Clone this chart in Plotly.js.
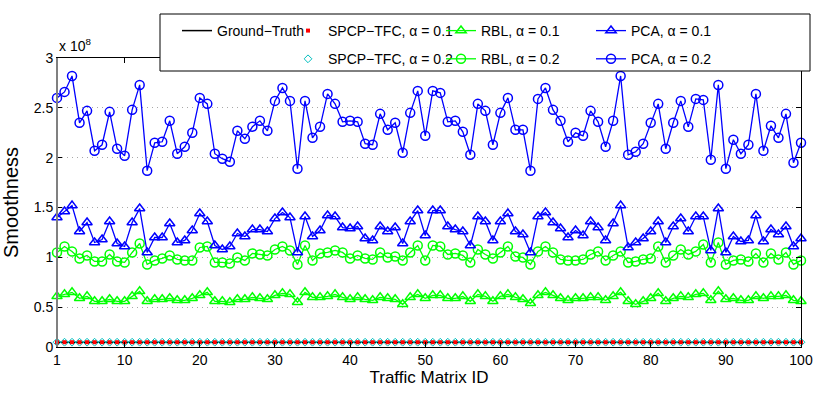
<!DOCTYPE html>
<html>
<head>
<meta charset="utf-8">
<script src="https://cdn.plot.ly/plotly-3.0.1.min.js"></script>
<style>
  html, body { margin: 0; padding: 0; background: #fff; }
  #chart { width: 821px; height: 393px; }
</style>
</head>
<body>
<div id="chart"></div>
<script>
// Traffic matrix ids (x axis)
const matrixId = [
    1, 2, 3, 4, 5, 6, 7, 8, 9, 10, 11, 12, 13, 14, 15, 16, 17, 18, 19, 20,
    21, 22, 23, 24, 25, 26, 27, 28, 29, 30, 31, 32, 33, 34, 35, 36, 37, 38, 39, 40,
    41, 42, 43, 44, 45, 46, 47, 48, 49, 50, 51, 52, 53, 54, 55, 56, 57, 58, 59, 60,
    61, 62, 63, 64, 65, 66, 67, 68, 69, 70, 71, 72, 73, 74, 75, 76, 77, 78, 79, 80,
    81, 82, 83, 84, 85, 86, 87, 88, 89, 90, 91, 92, 93, 94, 95, 96, 97, 98, 99, 100
];

// Smoothness values, in units of 10^8
const groundTruth = [
    0.15, 0.15, 0.15, 0.15, 0.15, 0.15, 0.15, 0.15, 0.15, 0.15, 0.15, 0.15, 0.15, 0.15, 0.15, 0.15, 0.15, 0.15, 0.15, 0.15,
    0.15, 0.15, 0.15, 0.15, 0.15, 0.15, 0.15, 0.15, 0.15, 0.15, 0.15, 0.15, 0.15, 0.15, 0.15, 0.15, 0.15, 0.15, 0.15, 0.15,
    0.15, 0.15, 0.15, 0.15, 0.15, 0.15, 0.15, 0.15, 0.15, 0.15, 0.15, 0.15, 0.15, 0.15, 0.15, 0.15, 0.15, 0.15, 0.15, 0.15,
    0.15, 0.15, 0.15, 0.15, 0.15, 0.15, 0.15, 0.15, 0.15, 0.15, 0.15, 0.15, 0.15, 0.15, 0.15, 0.15, 0.15, 0.15, 0.15, 0.15,
    0.15, 0.15, 0.15, 0.15, 0.15, 0.15, 0.15, 0.15, 0.15, 0.15, 0.15, 0.15, 0.15, 0.15, 0.15, 0.15, 0.15, 0.15, 0.15, 0.15
];
// SPCP-TFC sits right on the ground truth for both alphas
const spcpA1 = groundTruth;
const spcpA2 = groundTruth;

const rblA1 = [
    0.61, 0.63, 0.65, 0.59, 0.61, 0.56, 0.56, 0.58, 0.56, 0.56,
    0.61, 0.66, 0.56, 0.58, 0.58, 0.59, 0.57, 0.57, 0.59, 0.62,
    0.65, 0.56, 0.56, 0.55, 0.58, 0.58, 0.60, 0.59, 0.58, 0.62,
    0.64, 0.63, 0.55, 0.65, 0.60, 0.60, 0.61, 0.63, 0.60, 0.58,
    0.60, 0.58, 0.57, 0.60, 0.59, 0.58, 0.53, 0.60, 0.63, 0.59,
    0.62, 0.62, 0.59, 0.59, 0.61, 0.56, 0.63, 0.61, 0.56, 0.61,
    0.63, 0.60, 0.58, 0.54, 0.62, 0.65, 0.62, 0.59, 0.57, 0.59,
    0.59, 0.60, 0.60, 0.57, 0.61, 0.65, 0.56, 0.53, 0.56, 0.59,
    0.64, 0.56, 0.59, 0.61, 0.60, 0.63, 0.64, 0.57, 0.66, 0.58,
    0.59, 0.57, 0.57, 0.61, 0.59, 0.61, 0.61, 0.62, 0.57, 0.56
];

const rblA2 = [
    1.05, 1.11, 1.06, 0.99, 1.02, 0.96, 0.96, 1.03, 0.96, 0.95,
    1.05, 1.14, 0.93, 0.97, 0.99, 1.02, 0.98, 0.97, 0.97, 1.10,
    1.11, 0.95, 0.95, 0.94, 1.00, 0.97, 1.04, 1.03, 1.02, 1.08,
    1.11, 1.07, 0.93, 1.12, 0.97, 1.04, 1.05, 1.07, 1.05, 0.99,
    1.02, 0.99, 0.98, 1.05, 1.00, 1.01, 0.97, 1.05, 1.12, 0.97,
    1.12, 1.11, 1.03, 1.04, 1.02, 0.95, 1.08, 1.03, 0.99, 1.05,
    1.11, 1.01, 1.00, 0.93, 1.06, 1.11, 1.05, 0.98, 0.97, 0.97,
    0.98, 1.03, 1.06, 0.97, 1.02, 1.06, 0.95, 0.96, 0.98, 0.99,
    1.11, 0.95, 1.02, 1.08, 1.03, 1.06, 1.13, 0.95, 1.15, 0.93,
    0.97, 0.98, 0.96, 1.04, 0.95, 1.04, 0.98, 1.05, 0.93, 0.97
];

const pcaA1 = [
    1.40, 1.46, 1.52, 1.26, 1.35, 1.15, 1.18, 1.36, 1.14, 1.11,
    1.35, 1.49, 1.05, 1.20, 1.20, 1.34, 1.15, 1.17, 1.27, 1.44,
    1.36, 1.12, 1.08, 1.11, 1.24, 1.21, 1.28, 1.28, 1.26, 1.39,
    1.45, 1.40, 1.05, 1.41, 1.21, 1.27, 1.42, 1.41, 1.30, 1.29,
    1.31, 1.19, 1.17, 1.31, 1.26, 1.30, 1.14, 1.36, 1.47, 1.22,
    1.47, 1.47, 1.31, 1.28, 1.26, 1.12, 1.41, 1.36, 1.17, 1.36,
    1.44, 1.26, 1.23, 1.05, 1.41, 1.45, 1.35, 1.29, 1.20, 1.27,
    1.22, 1.36, 1.30, 1.17, 1.34, 1.52, 1.10, 1.15, 1.19, 1.26,
    1.36, 1.15, 1.31, 1.39, 1.26, 1.41, 1.41, 1.07, 1.49, 1.05,
    1.21, 1.16, 1.17, 1.42, 1.16, 1.28, 1.23, 1.31, 1.11, 1.19
];

const pcaA2 = [
    2.60, 2.66, 2.82, 2.35, 2.47, 2.07, 2.13, 2.46, 2.09, 2.02,
    2.48, 2.73, 1.87, 2.15, 2.16, 2.37, 2.04, 2.11, 2.25, 2.60,
    2.54, 2.04, 1.99, 1.96, 2.27, 2.19, 2.31, 2.37, 2.27, 2.57,
    2.70, 2.57, 1.89, 2.57, 2.20, 2.31, 2.64, 2.54, 2.36, 2.37,
    2.36, 2.14, 2.13, 2.44, 2.28, 2.35, 2.05, 2.45, 2.67, 2.22,
    2.67, 2.65, 2.36, 2.37, 2.26, 2.03, 2.54, 2.47, 2.13, 2.45,
    2.60, 2.28, 2.28, 1.87, 2.59, 2.70, 2.48, 2.37, 2.16, 2.25,
    2.22, 2.47, 2.36, 2.11, 2.37, 2.82, 2.03, 2.06, 2.14, 2.35,
    2.54, 2.09, 2.35, 2.57, 2.31, 2.59, 2.58, 1.98, 2.73, 1.89,
    2.18, 2.04, 2.13, 2.64, 2.07, 2.32, 2.20, 2.44, 1.95, 2.15
];

const xTicks = [1, 10, 20, 30, 40, 50, 60, 70, 80, 90, 100];
// bottom of the axis in the picture sits a bit above a true zero
const yBottom = 0.102;
const yTicks = [yBottom, 0.5, 1, 1.5, 2, 2.5, 3];
const yTickText = ['0', '0.5', '1', '1.5', '2', '2.5', '3'];

const BLUE = '#0000ff';
const GREEN = '#00ff00';
const FONT = 'Liberation Sans, Arial, sans-serif';

// plot box in pixels, used to place the legend columns
const W = 821, H = 393;
const M = { l: 57, r: 20, t: 58, b: 46 };
const plotW = W - M.l - M.r;
const plotH = H - M.t - M.b;
const px = x => (x - M.l) / plotW;
const py = y => (H - M.b - y) / plotH;

function series(name, y, legend, group, style) {
    return Object.assign({
        x: matrixId,
        y: y,
        name: name,
        type: 'scatter',
        legend: legend,
        legendgroup: group,
        showlegend: true,
        cliponaxis: false,
    }, style);
}

const traces = [
    series('Ground\u2212Truth', groundTruth, 'legend', 'gt', {
        mode: 'lines',
        line: { color: '#000', width: 1.5 },
    }),
    series('SPCP\u2212TFC, \u03b1 = 0.2', spcpA2, 'legend2', 'spcp2', {
        mode: 'markers',
        marker: { symbol: 'diamond-open', size: 6, color: '#00bfbf', line: { width: 1 } },
        legendrank: 2,
    }),
    series('SPCP\u2212TFC, \u03b1 = 0.1', spcpA1, 'legend2', 'spcp1', {
        mode: 'markers',
        marker: { symbol: 'square', size: 4, color: '#ff0000' },
        legendrank: 1,
    }),
    series('RBL, \u03b1 = 0.1', rblA1, 'legend3', 'rbl1', {
        mode: 'lines+markers',
        line: { color: GREEN, width: 1.3 },
        marker: { symbol: 'triangle-up-open', size: 9, color: GREEN, line: { width: 1.5 } },
    }),
    series('RBL, \u03b1 = 0.2', rblA2, 'legend3', 'rbl2', {
        mode: 'lines+markers',
        line: { color: GREEN, width: 1.3 },
        marker: { symbol: 'circle-open', size: 9, color: GREEN, line: { width: 1.5 } },
    }),
    series('PCA, \u03b1 = 0.1', pcaA1, 'legend4', 'pca1', {
        mode: 'lines+markers',
        line: { color: BLUE, width: 1.3 },
        marker: { symbol: 'triangle-up-open', size: 9, color: BLUE, line: { width: 1.5 } },
    }),
    series('PCA, \u03b1 = 0.2', pcaA2, 'legend4', 'pca2', {
        mode: 'lines+markers',
        line: { color: BLUE, width: 1.3 },
        marker: { symbol: 'circle-open', size: 9, color: BLUE, line: { width: 1.5 } },
    }),
];

// one legend per column, all inside a single drawn box
function legendColumn(textStart) {
    return {
        x: px(textStart - 40),
        y: py(15),
        xanchor: 'left',
        yanchor: 'top',
        bgcolor: 'rgba(0,0,0,0)',
        borderwidth: 0,
        traceorder: 'grouped',
        tracegroupgap: 7,
        font: { family: FONT, size: 14, color: '#000' },
    };
}

const layout = {
    width: W,
    height: H,
    margin: M,
    showlegend: true,
    paper_bgcolor: '#fff',
    plot_bgcolor: '#fff',
    font: { family: FONT, size: 14, color: '#000' },
    xaxis: {
        range: [1, 100],
        tickvals: xTicks,
        ticks: 'inside',
        ticklen: 5,
        tickcolor: '#000',
        showgrid: false,
        zeroline: false,
        showline: true,
        linecolor: '#000',
        linewidth: 1,
        mirror: 'ticks',
        tickfont: { size: 14 },
        title: { text: 'Traffic Matrix ID', font: { size: 17 }, standoff: 3 },
    },
    yaxis: {
        range: [yBottom, 3],
        tickvals: yTicks,
        ticktext: yTickText,
        ticks: 'inside',
        ticklen: 5,
        tickcolor: '#000',
        showgrid: true,
        gridcolor: '#a8a8a8',
        griddash: '1px,4px',
        gridwidth: 1,
        zeroline: false,
        showline: true,
        linecolor: '#000',
        linewidth: 1,
        mirror: 'ticks',
        tickfont: { size: 14 },
        title: { text: 'Smoothness', font: { size: 20 }, standoff: 12 },
    },
    legend: legendColumn(217),
    legend2: legendColumn(328),
    legend3: legendColumn(481),
    legend4: legendColumn(631),
    shapes: [
        {
            type: 'rect', xref: 'paper', yref: 'paper', layer: 'above',
            x0: px(160), x1: px(810), y0: py(71), y1: py(14),
            fillcolor: '#fff', line: { color: '#000', width: 1 },
        },
        {
            type: 'line', xref: 'paper', yref: 'paper', layer: 'above',
            x0: 0, x1: 0, y0: 0, y1: 1,
            line: { color: '#808080', width: 2 },
        },
    ],
    annotations: [{
        xref: 'paper', yref: 'paper', x: 0, y: 1, xanchor: 'left', yanchor: 'bottom',
        yshift: 2, showarrow: false,
        text: 'x 10<sup>8</sup>', font: { size: 14 },
    }],
};

Plotly.newPlot('chart', traces, layout, { displayModeBar: false, staticPlot: true });
</script>
</body>
</html>
